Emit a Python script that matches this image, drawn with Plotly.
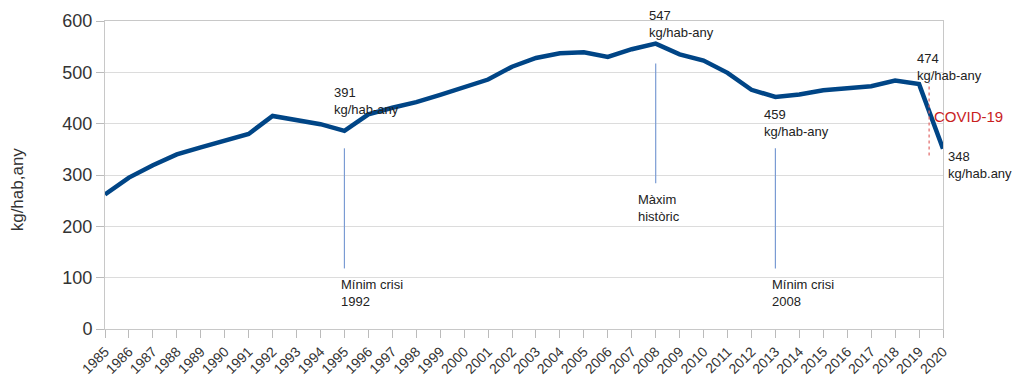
import plotly.graph_objects as go

years = list(range(1985, 2021))
values = [262, 295, 319, 340, 354, 366, 380, 415, 408, 399, 386, 418, 431, 442, 456, 471, 486,
          511, 528, 537, 539, 530, 545, 556, 535, 523, 499, 466, 452, 457, 465, 469, 473, 484, 477, 351]

y_ticks = [0, 100, 200, 300, 400, 500, 600]

# annotation texts and their anchor positions (year, value, pixel shift)
ann_texts = ["391<br>kg/hab-any", "Mínim crisi<br>1992", "547<br>kg/hab-any", "Màxim<br>històric",
             "459<br>kg/hab-any", "Mínim crisi<br>2008", "474<br>kg/hab-any", "348<br>kg/hab.any"]
ann_x = [1994.48, 1994.77, 2007.64, 2007.18, 2012.44, 2012.78, 2018.83, 2020]
ann_xshift = [0, 0, 0, 0, 0, 0, 0, 3]
ann_y = [444, 71, 594, 236, 402, 71, 511, 319]

# marker lines (year, from value, to value)
mark_x = [1995, 2008, 2013]
mark_y0 = [118, 284, 118]
mark_y1 = [352, 517, 352]

covid_x = 2019.42
covid_y0 = 338
covid_y1 = 479

FONT = "Liberation Sans, Arial, sans-serif"

fig = go.Figure()
fig.add_trace(go.Scatter(x=years, y=values, mode="lines",
                         line=dict(color="#004586", width=4.5), showlegend=False, hoverinfo="x+y"))

for x, y0, y1 in zip(mark_x, mark_y0, mark_y1):
    fig.add_shape(type="line", xref="x", yref="y", x0=x, x1=x, y0=y0, y1=y1,
                  line=dict(color="#7a9bd3", width=1.2))

fig.add_shape(type="line", xref="x", yref="y", x0=covid_x, x1=covid_x, y0=covid_y0, y1=covid_y1,
              line=dict(color="#e06666", width=1.2, dash="dot"))

for t, x, xs, y in zip(ann_texts, ann_x, ann_xshift, ann_y):
    fig.add_annotation(x=x, y=y, xref="x", yref="y", xshift=xs, text=t, showarrow=False,
                       xanchor="left", yanchor="middle", align="left",
                       font=dict(family=FONT, size=13, color="#222222"))

fig.add_annotation(x=2019.54, y=413, xref="x", yref="y", text="COVID-19", showarrow=False,
                   xanchor="left", yanchor="middle", font=dict(family=FONT, size=15, color="#c9211e"))

fig.add_annotation(x=-0.104, y=0.453, xref="paper", yref="paper", text="kg/hab,any", showarrow=False,
                   textangle=-90, xanchor="center", yanchor="middle",
                   font=dict(family=FONT, size=17, color="#333333"))

# page body adds an 8px offset, so the figure is drawn 8px smaller on each axis
fig.update_layout(
    width=1016, height=381,
    margin=dict(l=97, r=81, t=13, b=60),
    paper_bgcolor="white", plot_bgcolor="white",
    font=dict(family=FONT, color="#333333"),
)
fig.update_xaxes(range=[1985, 2020], tickmode="array", tickvals=years,
                 ticktext=[str(y) for y in years], tickangle=-45,
                 tickfont=dict(size=14, color="#333333"), automargin=False,
                 ticks="outside", ticklen=8, tickcolor="#bbbbbb",
                 showgrid=False, zeroline=False,
                 showline=True, linecolor="#c8c8c8", linewidth=1, mirror=True)
fig.update_yaxes(range=[0, 600], tickmode="array", tickvals=y_ticks,
                 tickfont=dict(size=18, color="#333333"), automargin=False,
                 ticks="outside", ticklen=8, tickcolor="#bbbbbb",
                 showgrid=True, gridcolor="#dcdcdc", gridwidth=1, zeroline=False,
                 showline=True, linecolor="#c8c8c8", linewidth=1, mirror=True)

fig.write_html("out.html")
